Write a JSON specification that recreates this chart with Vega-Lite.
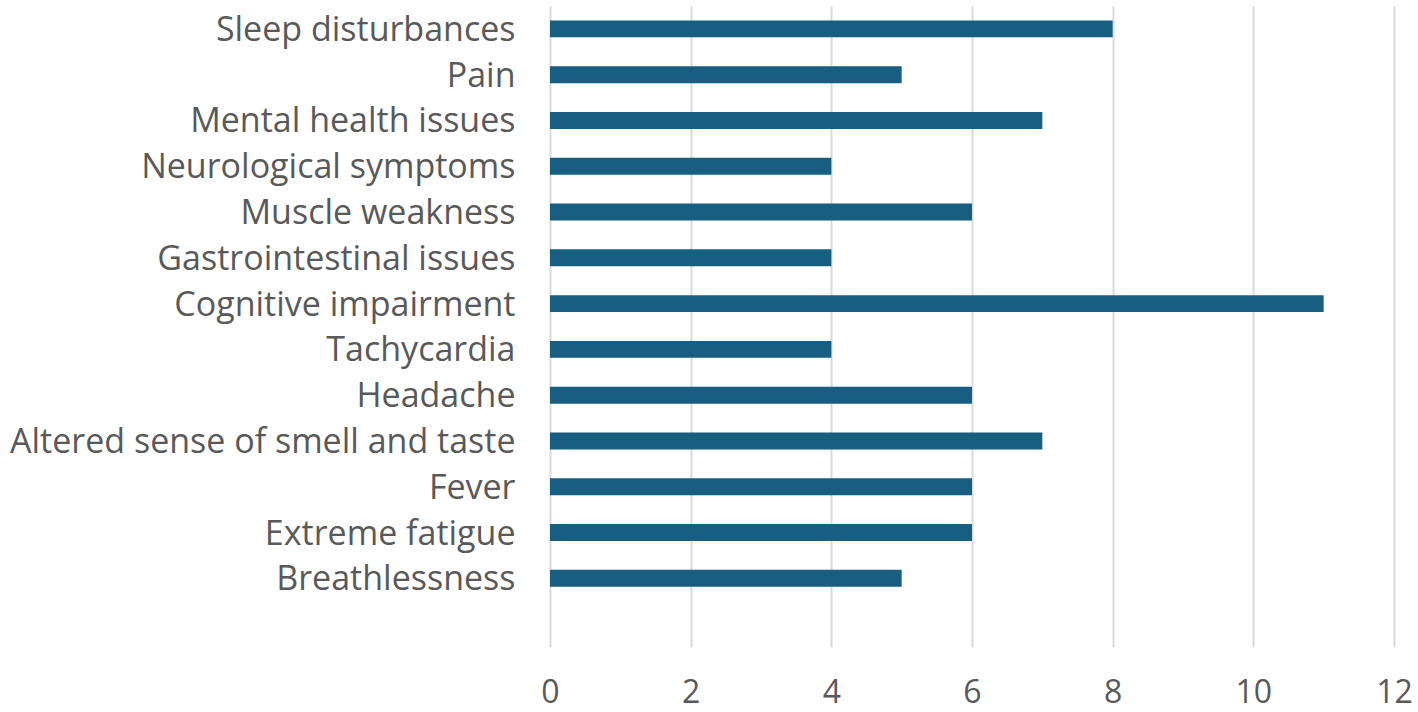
{
  "$schema": "https://vega.github.io/schema/vega-lite/v6.json",
  "width": 844,
  "height": 641,
  "autosize": "none",
  "padding": {"left": 550, "top": 6, "right": 24, "bottom": 65},
  "background": "white",
  "config": {"view": {"stroke": null}, "font": "Open Sans"},
  "data": {"values": [
    {"symptom": "Sleep disturbances", "count": 8},
    {"symptom": "Pain", "count": 5},
    {"symptom": "Mental health issues", "count": 7},
    {"symptom": "Neurological symptoms", "count": 4},
    {"symptom": "Muscle weakness", "count": 6},
    {"symptom": "Gastrointestinal issues", "count": 4},
    {"symptom": "Cognitive impairment", "count": 11},
    {"symptom": "Tachycardia", "count": 4},
    {"symptom": "Headache", "count": 6},
    {"symptom": "Altered sense of smell and taste", "count": 7},
    {"symptom": "Fever", "count": 6},
    {"symptom": "Extreme fatigue", "count": 6},
    {"symptom": "Breathlessness", "count": 5}
  ]},
  "mark": {"type": "bar", "color": "#175e80"},
  "encoding": {
    "y": {
      "field": "symptom", "type": "nominal",
      "scale": {
        "domain": ["Sleep disturbances", "Pain", "Mental health issues", "Neurological symptoms", "Muscle weakness", "Gastrointestinal issues", "Cognitive impairment", "Tachycardia", "Headache", "Altered sense of smell and taste", "Fever", "Extreme fatigue", "Breathlessness", " "],
        "paddingInner": 0.63, "paddingOuter": 0.315
      },
      "axis": {
        "title": null, "domain": false, "ticks": false, "grid": false,
        "labelFontSize": 34, "labelColor": "#595959", "labelPadding": 35, "labelLimit": 600, "labelOffset": 2
      }
    },
    "x": {
      "field": "count", "type": "quantitative",
      "scale": {"domain": [0, 12], "nice": false},
      "axis": {
        "title": null, "domain": false, "ticks": false, "values": [0, 2, 4, 6, 8, 10, 12],
        "grid": true, "gridColor": "#d9d9d9", "gridWidth": 2, "labelFlush": false,
        "labelFontSize": 32, "labelColor": "#595959", "labelPadding": 30
      }
    }
  }
}
